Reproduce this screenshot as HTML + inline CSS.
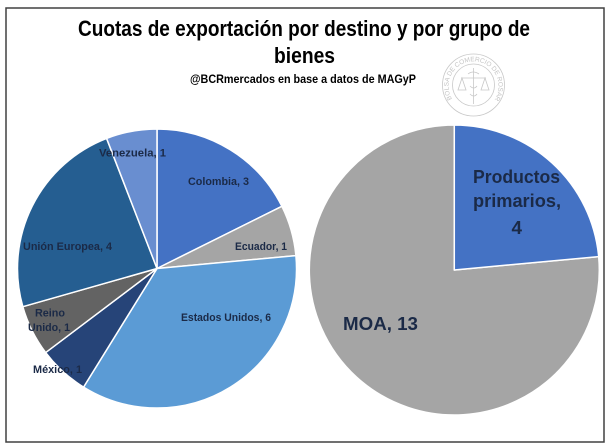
<!DOCTYPE html>
<html>
<head>
<meta charset="utf-8">
<style>
  html,body{margin:0;padding:0;background:#ffffff;}
  body{width:610px;height:448px;overflow:hidden;}
  svg{display:block;}
  .t{font-family:"Liberation Sans Narrow","Liberation Sans",sans-serif;font-weight:bold;fill:#000;}
  .l{font-family:"Liberation Sans",sans-serif;font-weight:bold;fill:#1b2a47;}
</style>
</head>
<body>
<svg width="610" height="448" viewBox="0 0 610 448" xmlns="http://www.w3.org/2000/svg">
  <rect x="0" y="0" width="610" height="448" fill="#ffffff"/>
  <!-- frame -->
  <rect x="6" y="8" width="598" height="434" fill="none" stroke="#404040" stroke-width="1.5"/>

  <!-- Title -->
  <text class="t" x="78" y="36" font-size="22" textLength="452" lengthAdjust="spacingAndGlyphs">Cuotas de exportación por destino y por grupo de</text>
  <text class="t" x="274" y="63" font-size="22" textLength="61" lengthAdjust="spacingAndGlyphs">bienes</text>
  <text class="t" x="190" y="83" font-size="11.5" textLength="226" lengthAdjust="spacingAndGlyphs">@BCRmercados  en base a datos de MAGyP</text>

  <!-- Seal watermark -->
  <g fill="none" stroke="#c8c8c8" stroke-width="0.8">
    <circle cx="473.5" cy="85" r="31"/>
    <circle cx="473.5" cy="85" r="21"/>
    <line x1="473.5" y1="68" x2="473.5" y2="104"/>
    <line x1="461" y1="78" x2="486" y2="78"/>
    <path d="M462 78 l-4 12 h8 z M485 78 l-4 12 h8 z"/>
    <path d="M468 74 q5 -4 11 0 M470 86 q4 4 7 0 M470 94 q4 4 7 0"/>
  </g>
  <path id="sealarc" d="M452 99 A25 25 0 1 1 495 99" fill="none"/>
  <text font-family="Liberation Sans,sans-serif" font-size="6.5" fill="#c4c4c4"><textPath href="#sealarc">BOLSA DE COMERCIO DE ROSARIO</textPath></text>

  <!-- Left pie -->
  <g stroke="#ffffff" stroke-width="1.5" stroke-linejoin="round">
    <path d="M157 268.5 L157 129 A139.5 139.5 0 0 1 281.88 206.32 Z" fill="#4472C4"/>
    <path d="M157 268.5 L281.88 206.32 A139.5 139.5 0 0 1 295.90 255.63 Z" fill="#A5A5A5"/>
    <path d="M157 268.5 L295.90 255.63 A139.5 139.5 0 0 1 83.56 387.11 Z" fill="#5B9BD5"/>
    <path d="M157 268.5 L83.56 387.11 A139.5 139.5 0 0 1 45.68 352.57 Z" fill="#264478"/>
    <path d="M157 268.5 L45.68 352.57 A139.5 139.5 0 0 1 22.82 306.68 Z" fill="#636363"/>
    <path d="M157 268.5 L22.82 306.68 A139.5 139.5 0 0 1 106.61 138.42 Z" fill="#255E91"/>
    <path d="M157 268.5 L106.61 138.42 A139.5 139.5 0 0 1 157 129 Z" fill="#698ED0"/>
  </g>

  <!-- Left labels -->
  <g class="l" font-size="11">
    <text class="l" x="99" y="156.5" font-size="11" textLength="67" lengthAdjust="spacingAndGlyphs">Venezuela, 1</text>
    <text class="l" x="188" y="185" font-size="11" textLength="61" lengthAdjust="spacingAndGlyphs">Colombia, 3</text>
    <text class="l" x="235" y="250" font-size="11" textLength="52" lengthAdjust="spacingAndGlyphs">Ecuador, 1</text>
    <text class="l" x="23" y="250" font-size="11" textLength="89" lengthAdjust="spacingAndGlyphs">Unión Europea, 4</text>
    <text class="l" x="181" y="321" font-size="11" textLength="90" lengthAdjust="spacingAndGlyphs">Estados Unidos, 6</text>
    <text class="l" x="35" y="316.5" font-size="11" textLength="30" lengthAdjust="spacingAndGlyphs">Reino</text>
    <text class="l" x="28" y="331" font-size="11" textLength="42" lengthAdjust="spacingAndGlyphs">Unido, 1</text>
    <text class="l" x="33" y="373" font-size="11" textLength="49" lengthAdjust="spacingAndGlyphs">México, 1</text>
  </g>

  <!-- Right pie -->
  <g stroke="#ffffff" stroke-width="1.5" stroke-linejoin="round">
    <path d="M454.3 270 L598.68 256.62 A145 145 0 1 1 454.3 125 Z" fill="#A5A5A5"/>
    <path d="M454.3 270 L454.3 125 A145 145 0 0 1 598.68 256.62 Z" fill="#4472C4"/>
  </g>

  <!-- Right labels -->
  <text class="l" x="473" y="183" font-size="18" textLength="87" lengthAdjust="spacingAndGlyphs">Productos</text>
  <text class="l" x="473" y="207" font-size="18" textLength="88" lengthAdjust="spacingAndGlyphs">primarios,</text>
  <text class="l" x="511.5" y="234" font-size="18" textLength="10.5" lengthAdjust="spacingAndGlyphs">4</text>
  <text class="l" x="343" y="330" font-size="18" textLength="75" lengthAdjust="spacingAndGlyphs">MOA, 13</text>
</svg>
</body>
</html>
